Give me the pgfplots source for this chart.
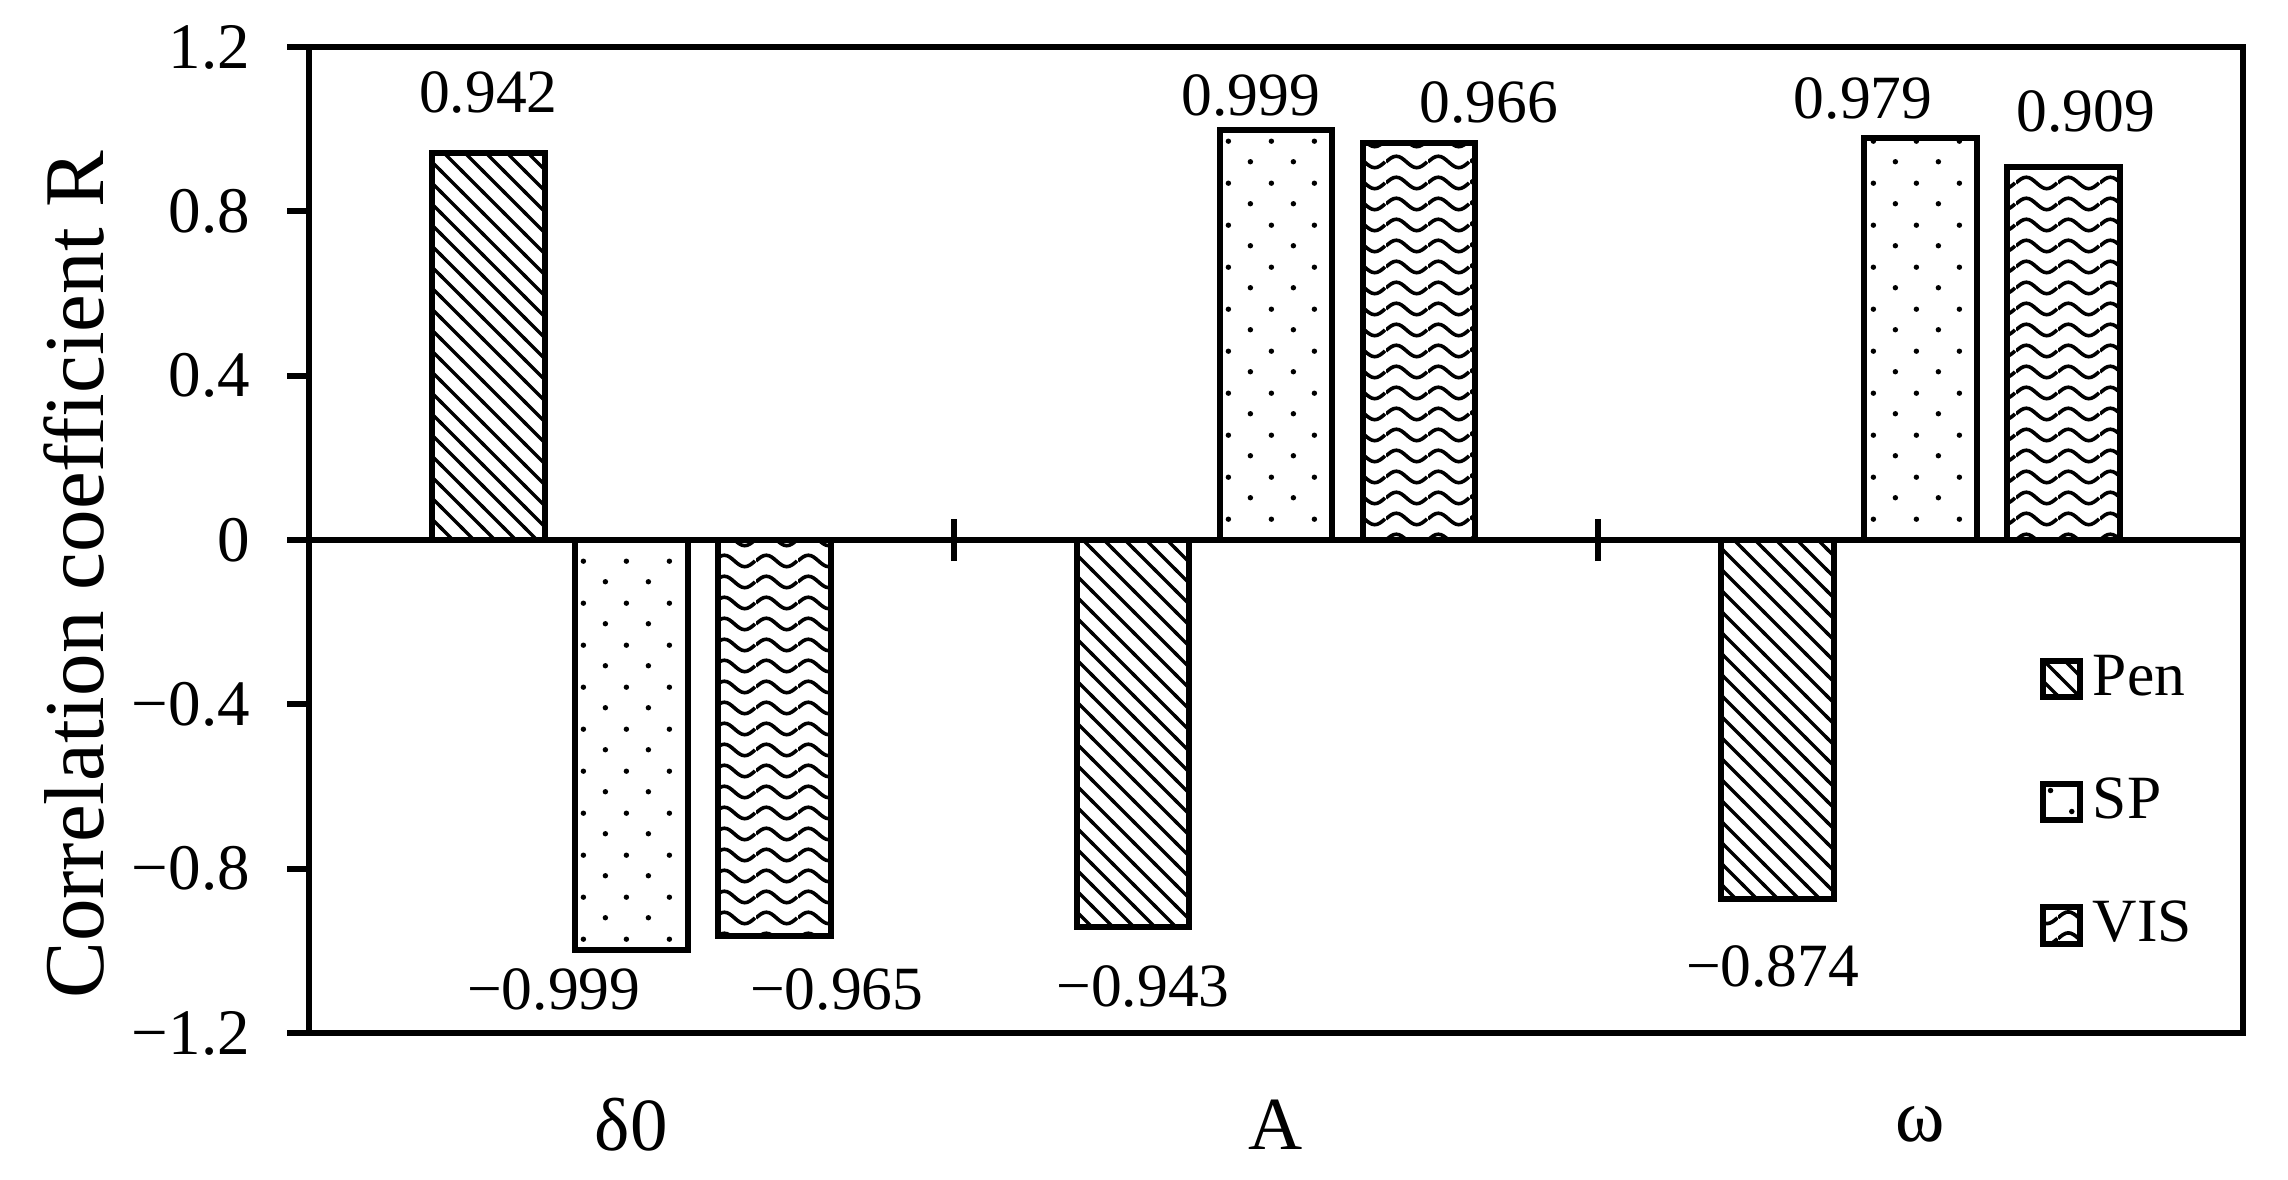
\documentclass[border=0pt]{standalone}
\usepackage{fontspec}
\setmainfont{Liberation Serif}
\usepackage{pgfplots}
\pgfplotsset{compat=1.18}
\usetikzlibrary{patterns.meta}

% fill patterns of the three series
\tikzdeclarepattern{name=penlines, type=uncolored,
  bounding box={(-0.5pt,-0.5pt) and (4.7pt,4.7pt)},
  tile size={(4.2pt,4.2pt)},
  code={\draw[line width=0.65pt] (-0.5pt,4.7pt) -- (4.7pt,-0.5pt);}}
\tikzdeclarepattern{name=spdots, type=uncolored,
  bounding box={(0pt,0pt) and (8.5pt,8.4pt)},
  tile size={(8.5pt,8.4pt)},
  code={\fill (2.1pt,2.1pt) circle (0.55pt); \fill (6.35pt,6.3pt) circle (0.55pt);}}
\tikzdeclarepattern{name=viswaves, type=uncolored,
  bounding box={(0pt,0pt) and (8.4pt,4.2pt)},
  tile size={(8.4pt,4.2pt)},
  code={\draw[line width=0.75pt] (0pt,2.1pt) sin (2.1pt,3.3pt) cos (4.2pt,2.1pt) sin (6.3pt,0.9pt) cos (8.4pt,2.1pt);}}

% value label: \lbl{dx}{dy}{text}, centre moved by dx, dy (pt) from the bar end
\protected\def\lbl#1#2#3{\raisebox{\dimexpr#2pt-4.2pt\relax}{\makebox[0pt]{\hspace*{\dimexpr#1pt*2\relax}#3}}}

\begin{document}
\begin{tikzpicture}
\begin{axis}[
    name=ax,
    scale only axis,
    width=386.8pt, height=197.2pt,
    xmin=-0.5, xmax=2.5,
    ymin=-1.2, ymax=1.2,
    ybar=6.1pt, bar width=22.5pt,
    xtick={0,1,2},
    xticklabels={δ0,A,ω},
    ytick={-1.2,-0.8,-0.4,0,0.4,0.8,1.2},
    yticklabels={−1.2,−0.8,−0.4,0,0.4,0.8,1.2},
    tick align=outside,
    major tick length=4.3pt,
    xtick style={draw=none},
    ytick pos=left,
    ytick style={line width=1.2pt, black},
    axis line style={line width=1.2pt},
    tick label style={font=\fontsize{13}{15}\selectfont},
    yticklabel style={xshift=-4pt},
    xticklabel style={font=\fontsize{15}{18}\selectfont, anchor=center, yshift=-14pt},
    ylabel={Correlation coefficient R},
    ylabel style={font=\fontsize{17}{20}\selectfont, at={(axis description cs:-0.1215,0.465)}, anchor=center},
    point meta=explicit symbolic,
    nodes near coords,
    every node near coord/.append style={font=\fontsize{12.3}{14}\selectfont, anchor=base, inner sep=0pt},
    every axis plot/.append style={draw=black, line width=1.2pt},
    legend image code/.code={\draw[#1, line width=1.2pt] (0pt,-3.65pt) rectangle (7.3pt,3.65pt);},
    legend style={draw=none, fill=none, at={(rel axis cs:0.887,0.234)}, anchor=west,
        row sep=11pt, font=\fontsize{12.3}{14}\selectfont},
    legend cell align=left,
    clip=false,
]
\addplot[pattern=penlines] coordinates {
    (0,0.942)  [\lbl{0}{12.4}{0.942}]
    (1,-0.943) [\lbl{2}{-11.7}{−0.943}]
    (2,-0.874) [\lbl{-1}{-13.3}{−0.874}]
};
\addlegendentry{Pen}
\addplot[pattern=spdots] coordinates {
    (0,-0.999) [\lbl{-15.5}{-7.7}{−0.999}]
    (1,0.999)  [\lbl{-5}{7.1}{0.999}]
    (2,0.979)  [\lbl{-11.5}{8.1}{0.979}]
};
\addlegendentry{SP}
\addplot[pattern=viswaves] coordinates {
    (0,-0.965) [\lbl{12.5}{-10.5}{−0.965}]
    (1,0.966)  [\lbl{14}{8.3}{0.966}]
    (2,0.909)  [\lbl{4.4}{11.2}{0.909}]
};
\addlegendentry{VIS}

\draw[line width=1.2pt] (axis cs:-0.5,0) -- (axis cs:2.5,0);
\draw[line width=1.2pt] (axis cs:0.5,0) ++(0pt,-4.2pt) -- ++(0pt,8.4pt);
\draw[line width=1.2pt] (axis cs:1.5,0) ++(0pt,-4.2pt) -- ++(0pt,8.4pt);
\end{axis}
\pgfresetboundingbox
\path[use as bounding box] ([xshift=-61.8pt,yshift=-29.2pt]ax.south west) rectangle ([xshift=9pt,yshift=9.4pt]ax.north east);
\end{tikzpicture}
\end{document}
